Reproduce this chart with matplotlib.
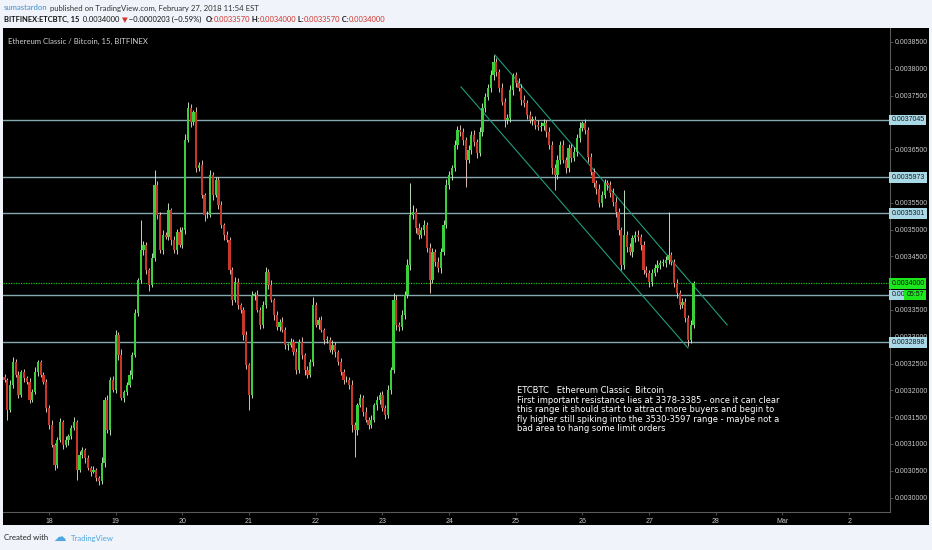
import matplotlib
matplotlib.use('Agg')
import matplotlib.pyplot as plt
from matplotlib.patches import Rectangle
import numpy as np

W, H = 932, 550

# ---------------- data (prices in units of 1e-7 BTC, hourly candles) ----------------
# t = hours since 2018-02-18 00:00 UTC
start_hour = -16
first_open = 32250

close_d17 = [32190, 31630, 32100, 32530, 32290, 31910, 32340, 32230, 32160, 31820, 31970, 32340,
             32530, 32290, 32160, 31670]
close_d18 = [31350, 30980, 30610, 31070, 31410, 30980, 31070, 31150, 31300, 31410, 30510, 30790,
             30890, 30740, 30550, 30480, 30510, 30370, 30300, 30640, 31820, 31260, 32190, 32010]
close_d19 = [33030, 32660, 31860, 31970, 32100, 32290, 32660, 33440, 34060, 34620, 34710, 34250,
             33970, 34470, 35830, 35270, 34620, 34900, 34860, 35370, 34810, 34620, 34960, 34710]
close_d20 = [34990, 36670, 37270, 37010, 37190, 36150, 36210, 35650, 35270, 35270, 36020, 35650,
             35930, 35460, 35090, 34900, 34810, 34250, 33690, 34020, 33590, 33500, 33030, 32470]
close_d21 = [31910, 33780, 33780, 33500, 33220, 33590, 34210, 33970, 33690, 33410, 33180, 33280,
             33130, 32850, 32850, 32900, 32720, 32380, 32900, 32660, 32380, 32290, 32530, 33590]
close_d22 = [33220, 33310, 33130, 32940, 32940, 32750, 32850, 32720, 32530, 32340, 32190, 32190,
             32100, 31350, 31260, 31730, 31860, 31600, 31450, 31350, 31450, 31730, 31820, 31910]
close_d23 = [31670, 31540, 32010, 32380, 33690, 33220, 33180, 33410, 33780, 34340, 35270, 35330,
             35030, 34900, 34990, 35090, 34660, 34060, 34580, 34400, 34280, 34580, 35090, 35830]
close_d24 = [36020, 36150, 36580, 36860, 36820, 36670, 36300, 36490, 36770, 36630, 36430, 36820,
             37270, 37470, 37640, 37880, 38130, 37940, 37640, 37380, 37050, 37080, 37600, 37880]
close_d25 = [37740, 37640, 37420, 37360, 37140, 37050, 37050, 36950, 36910, 36930, 36990, 36820,
             36580, 36150, 36020, 36300, 36580, 36300, 36150, 36520, 36340, 36450, 36710, 36900]
close_d26 = [36990, 36860, 36350, 36070, 35870, 35760, 35500, 35650, 35870, 35830, 35680, 35520,
             35330, 34990, 34340, 34900, 34670, 34580, 34840, 34900, 34860, 34710, 34250, 34190]
close_d27 = [34020, 34190, 34280, 34340, 34380, 34380, 34430, 34530, 34400, 34000, 33820, 33590,
             33650, 33350, 32940, 33220, 34000]

wick_up_d17 = [60, 40, 90, 30, 50, 80, 40, 60, 30, 70, 50, 90, 40, 30, 60, 50]
wick_dn_d17 = [40, 120, 30, 60, 40, 50, 30, 70, 40, 60, 30, 40, 80, 50, 40, 70]
wick_up_d18 = [50, 90, 40, 60, 70, 30, 80, 40, 60, 90, 40, 70, 50, 30, 60, 40, 80, 50, 30, 120, 60, 90, 50, 70]
wick_dn_d18 = [80, 40, 100, 50, 30, 70, 40, 90, 50, 40, 80, 30, 60, 90, 40, 70, 30, 60, 80, 40, 70, 50, 90, 40]
wick_up_d19 = [80, 50, 110, 40, 60, 90, 50, 70, 40, 120, 80, 60, 40, 90, 150, 70, 50, 100, 60, 90, 40, 70, 50, 80]
wick_dn_d19 = [60, 90, 40, 70, 50, 30, 80, 40, 60, 50, 90, 70, 110, 40, 60, 80, 50, 70, 40, 60, 100, 50, 80, 40]
wick_up_d20 = [60, 120, 100, 70, 50, 90, 60, 80, 40, 70, 110, 60, 90, 50, 70, 40, 80, 60, 50, 90, 70, 40, 60, 80]
wick_dn_d20 = [50, 70, 40, 90, 60, 80, 50, 70, 110, 60, 40, 90, 50, 80, 60, 90, 40, 70, 100, 50, 80, 60, 90, 70]
wick_up_d21 = [40, 80, 60, 90, 50, 70, 110, 60, 80, 40, 70, 50, 90, 60, 40, 80, 50, 70, 60, 90, 40, 80, 60, 100]
wick_dn_d21 = [70, 50, 90, 40, 80, 60, 50, 70, 40, 90, 60, 80, 50, 70, 90, 40, 60, 80, 50, 70, 90, 60, 40, 80]
wick_up_d22 = [60, 50, 80, 40, 70, 60, 90, 50, 40, 70, 60, 80, 50, 90, 60, 40, 70, 50, 80, 60, 90, 40, 70, 50]
wick_dn_d22 = [40, 70, 50, 80, 60, 40, 70, 90, 50, 60, 80, 40, 70, 120, 60, 90, 50, 70, 40, 80, 60, 50, 90, 70]
wick_up_d23 = [70, 50, 90, 60, 120, 80, 60, 90, 70, 110, 100, 130, 70, 90, 60, 80, 50, 90, 70, 60, 80, 70, 90, 110]
wick_dn_d23 = [60, 80, 50, 70, 60, 90, 70, 50, 80, 60, 90, 70, 100, 80, 60, 90, 70, 120, 60, 80, 70, 90, 50, 70]
wick_up_d24 = [80, 60, 100, 70, 90, 80, 60, 90, 70, 80, 60, 90, 100, 70, 80, 90, 130, 70, 60, 90, 70, 80, 100, 90]
wick_dn_d24 = [70, 90, 60, 80, 70, 100, 90, 60, 80, 70, 90, 60, 70, 80, 60, 70, 90, 80, 70, 60, 100, 80, 70, 90]
wick_up_d25 = [60, 80, 70, 90, 60, 80, 70, 60, 90, 70, 80, 60, 90, 70, 80, 100, 70, 90, 60, 80, 70, 90, 80, 100]
wick_dn_d25 = [80, 60, 90, 70, 80, 60, 90, 70, 60, 80, 70, 90, 80, 120, 100, 80, 70, 60, 90, 70, 80, 60, 70, 80]
wick_up_d26 = [90, 70, 60, 80, 70, 60, 90, 70, 80, 60, 70, 90, 80, 70, 60, 90, 70, 80, 60, 70, 90, 60, 80, 70]
wick_dn_d26 = [70, 80, 90, 60, 80, 100, 70, 80, 60, 90, 70, 80, 100, 90, 120, 70, 80, 60, 90, 70, 80, 90, 70, 80]
wick_up_d27 = [60, 80, 70, 90, 60, 80, 70, 90, 60, 50, 70, 60, 80, 70, 50, 90, 40]
wick_dn_d27 = [90, 70, 60, 80, 70, 60, 80, 70, 60, 80, 90, 70, 60, 80, 70, 60, 50]

# notable spikes (hour -> absolute high / low)
spike_highs = {-13: 32620, -4: 32570, 24: 33130, 33: 35180, 38: 36110, 43: 35490, 50: 37380,
               58: 36110, 60: 35980, 78: 34300, 95: 33740, 130: 35870, 160: 38260, 167: 37920,
               192: 37030, 207: 35740, 223: 35320}
spike_lows = {-15: 31450, 2: 30510, 10: 30330, 18: 30230, 72: 31630, 110: 30760, 137: 33820,
              150: 35790, 164: 36910, 182: 35740, 206: 34250, 216: 33930, 230: 32830}

# horizontal levels drawn on the chart
level_values = [37045, 35973, 35301, 33780, 32898]
level_labels = ['0.0037045', '0.0035973', '0.0035301', '0.00', '0.0032898']
last_price = 34000
last_label = '0.0034000'
countdown = '05:57'

# descending channel anchors (hour, price)
chan_up_t = [160.5, 244.1]
chan_up_p = [38258, 33220]
chan_lo_t = [148.3, 230.0]
chan_lo_p = [37661, 32790]

day_tick_hours = [0, 24, 48, 72, 96, 120, 144, 168, 192, 216, 240, 264, 288]
day_tick_labels = ['18', '19', '20', '21', '22', '23', '24', '25', '26', '27', '28', 'Mar', '2']

price_ticks = [30000 + 500 * k for k in range(18)]
hidden_price_ticks = [37000, 36000, 34000]   # covered by level boxes in the original

# ---------------- build candles ----------------
SC = 1e-7
close = np.array(close_d17 + close_d18 + close_d19 + close_d20 + close_d21 + close_d22 +
                 close_d23 + close_d24 + close_d25 + close_d26 + close_d27, dtype=float)
wup = np.array(wick_up_d17 + wick_up_d18 + wick_up_d19 + wick_up_d20 + wick_up_d21 + wick_up_d22 +
               wick_up_d23 + wick_up_d24 + wick_up_d25 + wick_up_d26 + wick_up_d27, dtype=float)
wdn = np.array(wick_dn_d17 + wick_dn_d18 + wick_dn_d19 + wick_dn_d20 + wick_dn_d21 + wick_dn_d22 +
               wick_dn_d23 + wick_dn_d24 + wick_dn_d25 + wick_dn_d26 + wick_dn_d27, dtype=float)
n = len(close)
hours = np.arange(start_hour, start_hour + n)
opn = np.concatenate([[first_open], close[:-1]])
high = np.maximum(opn, close) + wup
low = np.minimum(opn, close) - wdn
for h, v in spike_highs.items():
    high[h - start_hour] = v
for h, v in spike_lows.items():
    low[h - start_hour] = v

# ---------------- figure ----------------
BG = '#f0f3f9'
fig = plt.figure(figsize=(W / 100, H / 100), dpi=100, facecolor=BG)

def fx(px):
    return px / W

def fy(py):
    return 1 - py / H

# black chart panel (behind the axes)
panel = Rectangle((fx(3), fy(525)), fx(929) - fx(3), fy(28) - fy(525),
                  transform=fig.transFigure, facecolor='black', edgecolor='none', zorder=-5)
fig.patches.append(panel)

ax = fig.add_axes([fx(3), fy(512), fx(890) - fx(3), fy(28) - fy(512)])
ax.set_zorder(1)
ax.set_facecolor('black')
ax.set_xlim(-16.56, 302.7)
ax.set_ylim(29730 * SC, 38761 * SC)

# levels
for v in level_values:
    ax.axhline(v * SC, color='#86a9b0', lw=1.0, zorder=1)
ax.axhline(last_price * SC, color='#1fbf1f', lw=0.9, ls=(0, (1, 1)), zorder=1)

# channel
ax.plot(chan_up_t, np.array(chan_up_p) * SC, color='#1f9c7c', lw=0.8, zorder=2)
ax.plot(chan_lo_t, np.array(chan_lo_p) * SC, color='#1f9c7c', lw=0.8, zorder=2)

# candles
up = close >= opn
body_col = np.where(up, '#3ccf3c', '#c9372a')
wick_col = np.where(up, '#c8ecc0', '#ecc8b8')
ax.vlines(hours, low * SC, high * SC, colors=wick_col, lw=0.65, zorder=3)
bh = np.maximum(np.abs(close - opn), 10)
ax.bar(hours, bh * SC, bottom=np.minimum(opn, close) * SC, width=0.8, color=body_col,
       linewidth=0, zorder=4)

# axes styling
for s in ['top', 'left']:
    ax.spines[s].set_visible(False)
ax.spines['right'].set_color('#5a5a5a')
ax.spines['bottom'].set_color('#5a5a5a')
ax.spines['right'].set_linewidth(0.8)
ax.spines['bottom'].set_linewidth(0.8)
ax.yaxis.tick_right()
ax.set_yticks(np.array(price_ticks) * SC)
ax.set_yticklabels(['' if p in hidden_price_ticks else '%.7f' % (p * SC) for p in price_ticks])
ax.set_xticks(day_tick_hours)
ax.set_xticklabels(day_tick_labels)
ax.tick_params(axis='y', colors='#5a5a5a', labelcolor='#c8c8c8', labelsize=5, length=2, width=0.6, pad=1.5)
ax.tick_params(axis='x', colors='#5a5a5a', labelcolor='#c8c8c8', labelsize=5, length=2, width=0.6, pad=2)
for lab in ax.get_yticklabels() + ax.get_xticklabels():
    lab.set_fontfamily('Liberation Sans')

ytr = ax.get_yaxis_transform()
for v, lab in zip(level_values, level_labels):
    ax.text(1.0015, v * SC, lab, transform=ytr, fontsize=5, family='Liberation Sans',
            color='#1a1a1a', va='center', ha='left', clip_on=False, zorder=10,
            bbox=dict(boxstyle='square,pad=0.28', fc='#a9d8e6', ec='none'))
ax.text(1.0015, last_price * SC, last_label, transform=ytr, fontsize=5, family='Liberation Sans',
        color='#111111', va='center', ha='left', clip_on=False, zorder=11,
        bbox=dict(boxstyle='square,pad=0.28', fc='#1ee61e', ec='none'))
ax.text(1.0185, level_values[3] * SC, countdown, transform=ytr, fontsize=5, family='Liberation Sans',
        color='#111111', va='center', ha='left', clip_on=False, zorder=12,
        bbox=dict(boxstyle='square,pad=0.28', fc='#1ee61e', ec='none'))

# chart title inside
fig.text(fx(8), fy(41), 'Ethereum Classic / Bitcoin, 15, BITFINEX', color='#d0d0d0',
         fontsize=5.6, family='Lato', va='center', ha='left')

# annotation
note = ('ETCBTC   Ethereum Classic  Bitcoin\n'
        'First important resistance lies at 3378-3385 - once it can clear\n'
        'this range it should start to attract more buyers and begin to\n'
        'fly higher still spiking into the 3530-3597 range - maybe not a\n'
        'bad area to hang some limit orders')
fig.text(fx(517), fy(386), note, color='white', fontsize=6.05, family='DejaVu Sans',
         va='top', ha='left', linespacing=1.08)

# header segments
fig.canvas.draw()
rend = fig.canvas.get_renderer()

def chain(segments, x0, ypx, size):
    x = x0
    for txt, col, wt in segments:
        t = fig.text(fx(x), fy(ypx), txt, color=col, fontsize=size, family=['Lato', 'DejaVu Sans'],
                     weight=wt, va='center', ha='left')
        bb = t.get_window_extent(renderer=rend)
        x += bb.width

chain([('sumastardon', '#3d8fd1', 'normal'),
       (' published on TradingView.com, February 27, 2018 11:54 EST', '#333333', 'normal')],
      4, 8, 5.6)
RED = '#d0332b'
chain([('BITFINEX:ETCBTC, 15', '#111111', 'bold'),
       ('  0.0034000 ', '#111111', 'normal'),
       ('\u25bc', RED, 'normal'),
       (' \u22120.0000203 (\u22120.59%)  ', '#111111', 'normal'),
       ('O:', '#111111', 'bold'), ('0.0033570', RED, 'normal'),
       (' H:', '#111111', 'bold'), ('0.0034000', RED, 'normal'),
       (' L:', '#111111', 'bold'), ('0.0033570', RED, 'normal'),
       (' C:', '#111111', 'bold'), ('0.0034000', RED, 'normal')],
      4, 19.5, 5.4)

# footer
fig.text(fx(4), fy(538), 'Created with', color='#222222', fontsize=5.6, family='Lato',
         va='center', ha='left')
fig.text(fx(53), fy(537), '\u2601', color='#4ea6de', fontsize=9, family='DejaVu Sans',
         va='center', ha='left')
fig.text(fx(71), fy(538), 'TradingView', color='#4ea6de', fontsize=5.6, family='Lato',
         va='center', ha='left')

fig.savefig('out.png', dpi=100, facecolor=BG)
